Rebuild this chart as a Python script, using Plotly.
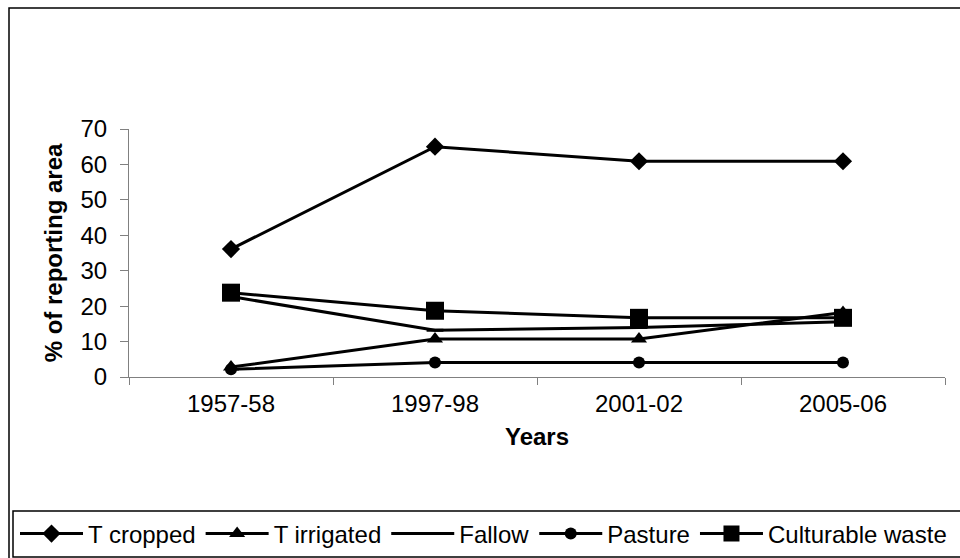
import plotly.graph_objects as go

years = ["1957-58", "1997-98", "2001-02", "2005-06"]
t_cropped = [36.1, 65.0, 60.9, 60.9]
t_irrigated = [2.8, 10.7, 10.7, 18.2]
fallow = [22.7, 13.2, 14.0, 15.6]
pasture = [2.2, 4.1, 4.1, 4.1]
culturable_waste = [23.8, 18.7, 16.7, 16.7]

series = [
    ("T cropped", t_cropped, "diamond", 14),
    ("T irrigated", t_irrigated, "triangle-up", 14),
    ("Fallow", fallow, "line-ew", 12),
    ("Pasture", pasture, "circle", 12),
    ("Culturable waste", culturable_waste, "square", 18),
]

fig = go.Figure()
for name, vals, sym, size in series:
    marker = dict(symbol=sym, size=size, color="black")
    if sym == "line-ew":
        marker["line"] = dict(color="black", width=3)
    fig.add_trace(go.Scatter(
        x=years, y=vals, name=name, mode="lines+markers",
        line=dict(color="black", width=3), marker=marker,
    ))

W, H = 960, 558
L, R, T, B = 129, 15, 129, 181
pw, ph = W - L - R, H - T - B
def px(x):
    return (x - L) / pw
def py(y):
    return (H - B - y) / ph

font = "Liberation Sans, Arial, sans-serif"
fig.update_layout(
    width=W, height=H,
    margin=dict(l=L, r=R, t=T, b=B, autoexpand=False),
    paper_bgcolor="white", plot_bgcolor="white",
    font=dict(family=font, size=24, color="black"),
    showlegend=True,
    legend=dict(
        orientation="h", x=px(15), xanchor="left", y=py(534), yanchor="middle",
        font=dict(size=24), bgcolor="rgba(0,0,0,0)", itemwidth=63,
        tracegroupgap=0,
    ),
    xaxis=dict(
        type="category", range=[-0.5, 3.5], tickson="boundaries", ticks="outside", ticklen=7,
        tickcolor="#808080", showline=True, linecolor="#808080", linewidth=1,
        showgrid=False, zeroline=False, ticklabelstandoff=5,
        title=dict(text="<b>Years</b>", font=dict(size=24), standoff=12),
        tickfont=dict(size=24),
    ),
    yaxis=dict(
        range=[0, 70], dtick=10, ticks="outside", ticklen=8,
        tickcolor="#808080", showline=True, linecolor="#808080", linewidth=1,
        showgrid=False, zeroline=False, ticklabelstandoff=8,
        title=dict(text="<b>% of reporting area</b>", font=dict(size=24), standoff=11),
        tickfont=dict(size=24),
    ),
    shapes=[
        dict(type="rect", xref="paper", yref="paper",
             x0=px(9), x1=px(1000), y0=py(600), y1=py(8),
             line=dict(color="black", width=1.5), fillcolor="rgba(0,0,0,0)", layer="below"),
        dict(type="rect", xref="paper", yref="paper",
             x0=px(13), x1=px(1000), y0=py(557), y1=py(511),
             line=dict(color="black", width=1.5), fillcolor="rgba(0,0,0,0)", layer="below"),
    ],
)

fig.write_html(
    "out.html",
    config={"displayModeBar": False},
    post_script="document.body.style.margin='0';document.body.style.overflow='hidden';",
)
